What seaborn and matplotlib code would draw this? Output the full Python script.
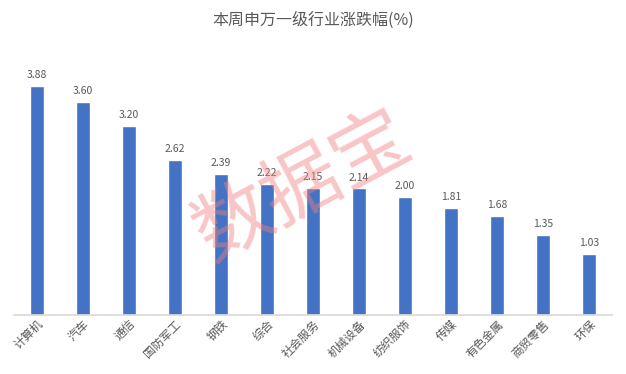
import matplotlib
matplotlib.use('Agg')
import matplotlib.pyplot as plt
import seaborn as sns
import pandas as pd

industries = ['计算机', '汽车', '通信', '国防军工', '钢铁', '综合', '社会服务',
              '机械设备', '纺织服饰', '传媒', '有色金属', '商贸零售', '环保']
changes = [3.88, 3.60, 3.20, 2.62, 2.39, 2.22, 2.15, 2.14, 2.00, 1.81, 1.68, 1.35, 1.03]
title = '本周申万一级行业涨跌幅(%)'
watermark = '数据宝'

BAR_COLOR = '#4472C4'
TEXT_COLOR = '#595959'

sns.set_theme(style='white')
plt.rcParams['font.family'] = ['Noto Sans CJK SC', 'DejaVu Sans']

df = pd.DataFrame({'industry': industries, 'change': changes})

fig = plt.figure(figsize=(6.26, 3.74), dpi=100)
ax = fig.add_axes([0.022, 0.158, 0.956, 0.711])
sns.barplot(data=df, x='industry', y='change', color=BAR_COLOR, width=0.3,
            saturation=1, ax=ax)

for i, v in enumerate(changes):
    ax.text(i, v + 0.1, f'{v:.2f}', ha='center', va='bottom', fontsize=7.5,
            color=TEXT_COLOR)

ax.set_ylim(0, 4.5)
ax.set_xlim(-0.5, len(industries) - 0.5)
ax.set_xlabel('')
ax.set_ylabel('')
ax.set_yticks([])
for s in ['top', 'right', 'left']:
    ax.spines[s].set_visible(False)
ax.spines['bottom'].set_color('#d9d9d9')
ax.tick_params(axis='x', length=0, pad=2)
ax.set_xticks(range(len(industries)))
ax.set_xticklabels(industries, rotation=45, ha='right', rotation_mode='anchor',
                   fontsize=8.5, color=TEXT_COLOR)

fig.text(0.5, 0.945, title, ha='center', va='center', fontsize=11.5,
         color=TEXT_COLOR)

fig.text(0.485, 0.50, watermark, ha='center', va='center', fontsize=56,
         color='#f08080', alpha=0.45, rotation=28)

plt.savefig('out.png', dpi=100)
